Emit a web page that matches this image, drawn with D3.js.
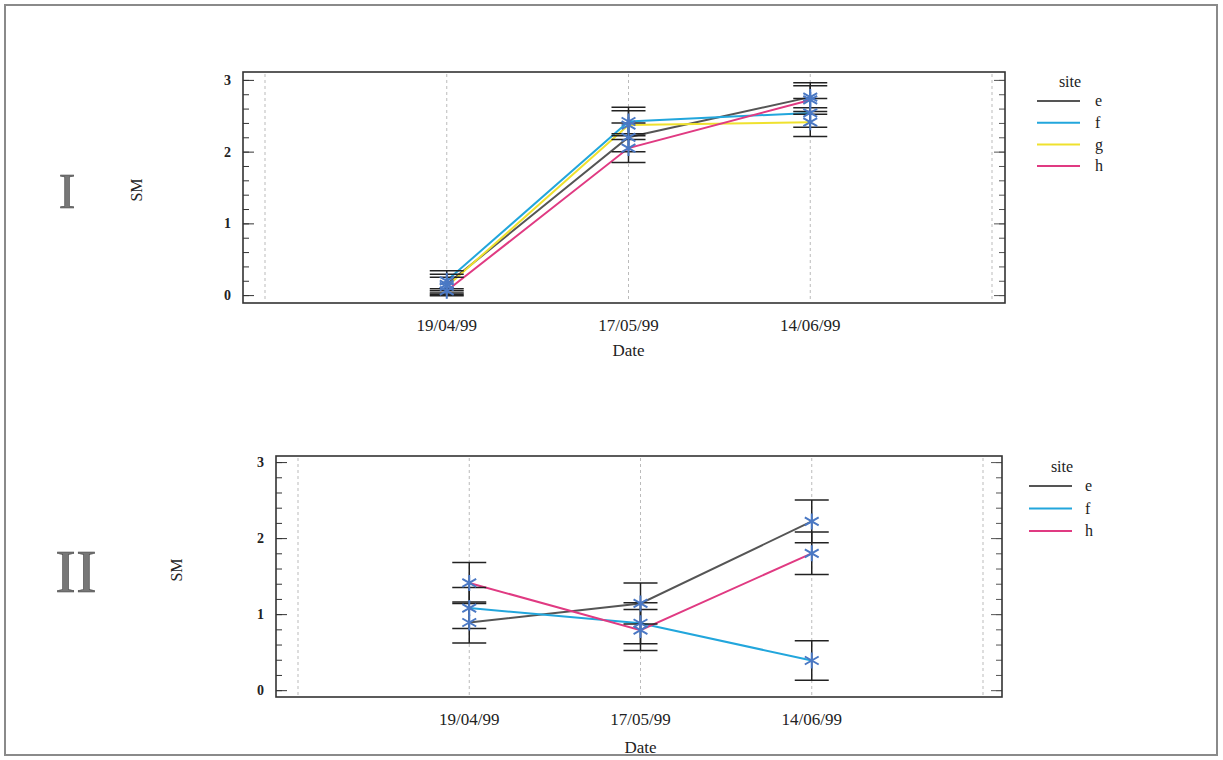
<!DOCTYPE html>
<html>
<head>
<meta charset="utf-8">
<script src="https://cdn.jsdelivr.net/npm/d3@7"></script>
<style>
  body { margin: 0; background: #fff; }
  text { font-family: "Liberation Serif", "DejaVu Serif", serif; fill: #222; }
</style>
</head>
<body>
<div id="chart"></div>
<script>
// dates on the x axis
const dates = ["19/04/99", "17/05/99", "14/06/99"];
const yTicks = [0, 1, 2, 3];

// panel I : sites e, f, g, h
const sitesI = ["e", "f", "g", "h"];
const smI_e = [0.15, 2.20, 2.76];
const smI_f = [0.20, 2.42, 2.54];
const smI_g = [0.12, 2.37, 2.41];
const smI_h = [0.06, 2.05, 2.72];
const errI_e = [0.14, 0.20, 0.20];
const errI_f = [0.14, 0.20, 0.20];
const errI_g = [0.13, 0.20, 0.20];
const errI_h = [0.03, 0.20, 0.20];

// panel II : sites e, f, h
const sitesII = ["e", "f", "h"];
const smII_e = [0.89, 1.14, 2.22];
const smII_f = [1.08, 0.88, 0.39];
const smII_h = [1.41, 0.79, 1.80];
const errII_e = [0.27, 0.27, 0.28];
const errII_f = [0.27, 0.27, 0.26];
const errII_h = [0.27, 0.27, 0.28];

const siteColor = { e: "#555555", f: "#22a6dc", g: "#efe12e", h: "#e03a82" };

// 6-armed asterisk (vertical + two diagonals)
const starSymbol = {
    draw(context, size) {
        const r = Math.sqrt(size) / 2;
        for (let k = 0; k < 3; k++) {
            const a = Math.PI / 2 + k * Math.PI / 3;
            const dx = r * Math.cos(a), dy = r * Math.sin(a);
            context.moveTo(-dx, -dy);
            context.lineTo(dx, dy);
        }
    }
};

const W = 1223, H = 760;
const svg = d3.select("#chart").append("svg")
    .attr("width", W)
    .attr("height", H);

// outer frame
svg.append("rect")
    .attr("x", 5).attr("y", 5)
    .attr("width", 1212).attr("height", 750)
    .attr("fill", "none")
    .attr("stroke", "#8a8a8a")
    .attr("stroke-width", 2);

function drawPanel(cfg) {
    const f = cfg.frame;
    const g = svg.append("g");

    const x = d3.scalePoint()
        .domain(dates)
        .range(cfg.xRange)
        .padding(1);

    const y = d3.scaleLinear()
        .domain(cfg.yDomain)
        .range([f.y1, f.y0]);

    // vertical grid lines: the 3 dates plus the two empty ends
    const gridX = [cfg.xRange[0]].concat(dates.map(d => x(d)), [cfg.xRange[1]]);
    g.selectAll(".grid")
        .data(gridX)
        .join("line")
        .attr("class", "grid")
        .attr("x1", d => d).attr("x2", d => d)
        .attr("y1", f.y0 + 2).attr("y2", f.y1 - 2)
        .attr("stroke", "#bbb")
        .attr("stroke-dasharray", "3,3")
        .attr("stroke-width", 1);

    // left axis, ticks pointing inward
    const minor = d3.range(0, 3.01, 0.2);
    g.append("g")
        .attr("transform", `translate(${f.x0},0)`)
        .call(d3.axisLeft(y).tickValues(minor).tickSize(-6).tickFormat(""))
        .call(a => a.select(".domain").remove())
        .call(a => a.selectAll("line").attr("stroke", "#333"));
    g.append("g")
        .attr("transform", `translate(${f.x0},0)`)
        .call(d3.axisLeft(y).tickValues(yTicks).tickSize(-11).tickPadding(12).tickFormat(d3.format("d")))
        .call(a => a.select(".domain").remove())
        .call(a => a.selectAll("line").attr("stroke", "#333"))
        .call(a => a.selectAll("text")
            .style("font-family", "Liberation Serif")
            .style("font-size", "14px")
            .style("font-weight", "bold")
            .attr("fill", "#333"));

    // right axis, ticks pointing inward, no labels
    g.append("g")
        .attr("transform", `translate(${f.x1},0)`)
        .call(d3.axisRight(y).tickValues(minor).tickSize(-6).tickFormat(""))
        .call(a => a.select(".domain").remove())
        .call(a => a.selectAll("line").attr("stroke", "#555"));
    g.append("g")
        .attr("transform", `translate(${f.x1},0)`)
        .call(d3.axisRight(y).tickValues(yTicks).tickSize(-11).tickFormat(""))
        .call(a => a.select(".domain").remove())
        .call(a => a.selectAll("line").attr("stroke", "#555"));

    // frame
    g.append("rect")
        .attr("x", f.x0).attr("y", f.y0)
        .attr("width", f.x1 - f.x0).attr("height", f.y1 - f.y0)
        .attr("fill", "none")
        .attr("stroke", "#333")
        .attr("stroke-width", 1.6);

    // x tick labels
    g.selectAll(".xlab")
        .data(dates)
        .join("text")
        .attr("class", "xlab")
        .attr("x", d => x(d))
        .attr("y", cfg.xLabY)
        .attr("text-anchor", "middle")
        .style("font-size", "17px")
        .text(d => d);

    g.append("text")
        .attr("x", (x(dates[0]) + x(dates[2])) / 2)
        .attr("y", cfg.dateY)
        .attr("text-anchor", "middle")
        .style("font-size", "17px")
        .text("Date");

    // y title
    g.append("text")
        .attr("transform", `translate(${cfg.smX},${cfg.midY}) rotate(-90)`)
        .attr("text-anchor", "middle")
        .attr("dy", "0.35em")
        .style("font-size", "16px")
        .text("SM");

    // roman numeral
    g.append("text")
        .attr("x", cfg.romanX)
        .attr("y", cfg.midY)
        .attr("dy", "0.35em")
        .attr("text-anchor", "middle")
        .style("font-size", cfg.romanSize + "px")
        .style("fill", "#777")
        .style("stroke", "#444")
        .style("stroke-width", 0.6)
        .text(cfg.roman);

    const series = cfg.sites.map((s, i) => ({
        site: s,
        values: cfg.values[i].map((v, j) => ({ date: dates[j], v: v, err: cfg.errs[i][j] }))
    }));

    const line = d3.line().x(d => x(d.date)).y(d => y(d.v));

    g.selectAll(".series")
        .data(series)
        .join("path")
        .attr("class", "series")
        .attr("d", d => line(d.values))
        .attr("fill", "none")
        .attr("stroke", d => siteColor[d.site])
        .attr("stroke-width", 2);

    // error bars
    const pts = series.flatMap(s => s.values);
    const capW = 17;
    const eb = g.selectAll(".eb")
        .data(pts)
        .join("g")
        .attr("class", "eb")
        .attr("stroke", "#222")
        .attr("stroke-width", 1.5);
    eb.append("line")
        .attr("x1", d => x(d.date)).attr("x2", d => x(d.date))
        .attr("y1", d => y(d.v + d.err)).attr("y2", d => y(d.v - d.err));
    eb.append("line")
        .attr("x1", d => x(d.date) - capW).attr("x2", d => x(d.date) + capW)
        .attr("y1", d => y(d.v + d.err)).attr("y2", d => y(d.v + d.err));
    eb.append("line")
        .attr("x1", d => x(d.date) - capW).attr("x2", d => x(d.date) + capW)
        .attr("y1", d => y(d.v - d.err)).attr("y2", d => y(d.v - d.err));

    // asterisk markers
    g.selectAll(".mk")
        .data(pts)
        .join("path")
        .attr("class", "mk")
        .attr("transform", d => `translate(${x(d.date)},${y(d.v)})`)
        .attr("d", d3.symbol(starSymbol, 256))
        .attr("fill", "none")
        .attr("stroke", "#4a78c4")
        .attr("stroke-width", 2);

    // legend
    const lg = g.append("g").attr("transform", `translate(${cfg.legend.x},${cfg.legend.y})`);
    lg.append("text")
        .attr("x", 33).attr("y", -14)
        .attr("text-anchor", "middle")
        .style("font-size", "16px")
        .text("site");
    const item = lg.selectAll(".li")
        .data(cfg.sites)
        .join("g")
        .attr("class", "li")
        .attr("transform", (d, i) => `translate(0,${i * cfg.legend.step})`);
    item.append("line")
        .attr("x1", 0).attr("x2", 43)
        .attr("stroke", d => siteColor[d])
        .attr("stroke-width", 2);
    item.append("text")
        .attr("x", cfg.legend.textX)
        .attr("dy", "0.32em")
        .style("font-size", "16px")
        .text(d => d);
}

drawPanel({
    frame: { x0: 243, x1: 1005, y0: 72, y1: 303 },
    xRange: [265, 992],
    yDomain: [-0.11, 3.11],
    sites: sitesI,
    values: [smI_e, smI_f, smI_g, smI_h],
    errs: [errI_e, errI_f, errI_g, errI_h],
    xLabY: 331, dateY: 356,
    smX: 136, romanX: 67, midY: 190, roman: "I", romanSize: 50,
    legend: { x: 1037, y: 101, step: 21.7, textX: 58 }
});

drawPanel({
    frame: { x0: 276, x1: 1002, y0: 456, y1: 697 },
    xRange: [298, 983],
    yDomain: [-0.09, 3.08],
    sites: sitesII,
    values: [smII_e, smII_f, smII_h],
    errs: [errII_e, errII_f, errII_h],
    xLabY: 725, dateY: 753,
    smX: 176, romanX: 76, midY: 570, roman: "II", romanSize: 62,
    legend: { x: 1029, y: 486, step: 22.5, textX: 56 }
});
</script>
</body>
</html>
